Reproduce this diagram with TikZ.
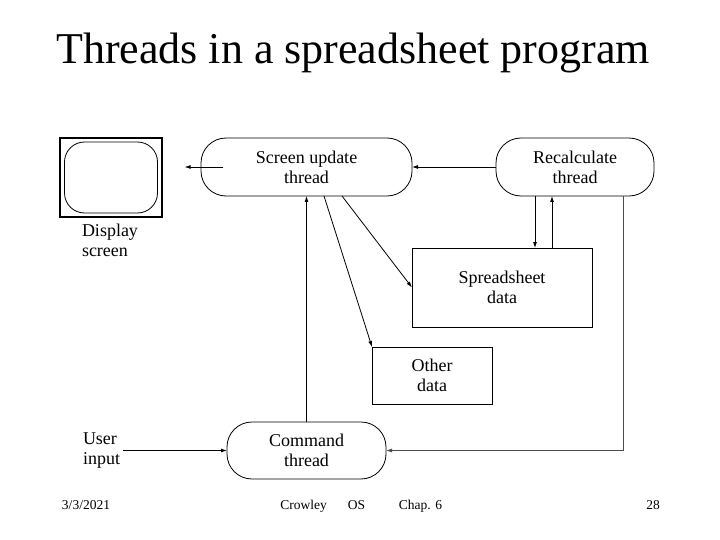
\documentclass[tikz,border=0pt]{standalone}
\usepackage{fontspec}
\setmainfont{Liberation Serif}
\usetikzlibrary{calc,arrows.meta,positioning}
\tikzstyle{arrow} = [line width=0.8pt,->,>={Latex[length=6pt,width=4pt]}]
\tikzstyle{thread} = [draw,line width=0.8pt,rounded corners=25pt,inner sep=0pt,outer sep=0pt,align=center,font=\fontsize{18}{20}\selectfont]
\tikzstyle{store} = [draw,line width=0.8pt,inner sep=0pt,outer sep=0pt,align=center,font=\fontsize{18}{20}\selectfont]
\tikzstyle{plain} = [inner sep=0pt,outer sep=0pt,align=left,font=\fontsize{18}{20}\selectfont]
\tikzstyle{foot} = [inner sep=0pt,anchor=base,font=\fontsize{13.5}{15}\selectfont]

\begin{document}
\begin{tikzpicture}[x=1pt,y=-1pt]

	%% page frame
	\useasboundingbox (0,0) rectangle (720,540);
	\fill[white] (0,0) rectangle (720,540);

	%% title
	\node[inner sep=0pt,font=\fontsize{44}{50}\selectfont] (title) at (353,53) {Threads in a spreadsheet program};

	%% display screen
	\node[draw,line width=1.2pt,minimum width=102pt,minimum height=79pt,inner sep=0pt] (disp) at (111,177.5) {};
	\node[draw,line width=0.8pt,rounded corners=20pt,minimum width=93pt,minimum height=71pt,inner sep=0pt] (dispin) at (disp.center) {};
	\node[plain,anchor=north west] (displbl) at (82,224) {Display\\screen};

	%% threads
	\node[thread,minimum width=211pt,minimum height=58pt] (sut) at (306.5,167) {Screen update\\thread};
	\node[thread,minimum width=158pt,minimum height=58pt] (rec) at (575,167) {Recalculate\\thread};
	\node[thread,minimum width=159pt,minimum height=57pt] (cmd) at (306.5,450.5) {Command\\thread};

	%% data
	\node[store,minimum width=180pt,minimum height=79pt] (ssd) at (502,287.5) {Spreadsheet\\data};
	\node[store,minimum width=120pt,minimum height=57pt] (oth) at (432,375.5) {Other\\data};

	%% user input
	\node[plain,anchor=west] (uin) at (83,451) {User\\input};

	%% connectors
	\draw[arrow] ([xshift=22pt]sut.west) -- ([xshift=22pt]sut.west -| disp.east);
	\draw[arrow] (rec.west) -- (sut.east);
	\draw[arrow] ([xshift=-40pt]rec.south) -- ([xshift=-40pt]rec.south |- ssd.north);
	\draw[arrow] ([xshift=-23pt]rec.south |- ssd.north) -- ([xshift=-23pt]rec.south);
	\draw[arrow] ([xshift=17.5pt]sut.south) -- (oth.north west);
	\draw[arrow] ([xshift=35.5pt]sut.south) -- (ssd.west);
	\draw[arrow] (cmd.north) -- (sut.south);
	\draw[arrow,black!70] ([xshift=48pt]rec.south) |- (cmd.east);
	\draw[arrow] ([xshift=3pt]uin.east |- cmd.west) -- (cmd.west);

	%% footer
	\node[foot] (date) at (86,509) {3/3/2021};
	\node[foot] (auth) at (303.5,509) {Crowley};
	\node[foot] (os) at (356.5,509) {OS};
	\node[foot] (chap) at (420.5,509) {Chap. 6};
	\node[foot] (page) at (653,509) {28};
\end{tikzpicture}
\end{document}
